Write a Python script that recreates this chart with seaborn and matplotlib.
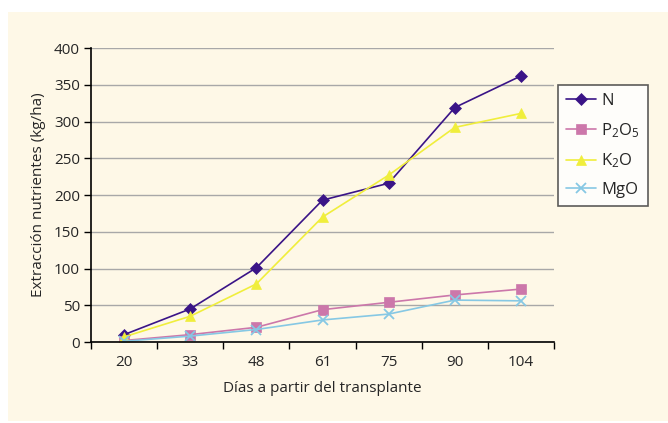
import matplotlib
matplotlib.use("Agg")
import matplotlib.pyplot as plt
import seaborn as sns
import pandas as pd
from matplotlib.patches import Rectangle
from matplotlib.ticker import FixedLocator, NullFormatter, FixedFormatter

# data
dias = ["20", "33", "48", "61", "75", "90", "104"]
n_vals = [10, 45, 101, 193, 216, 319, 362]
p2o5_vals = [2, 10, 20, 44, 54, 64, 72]
k2o_vals = [7, 35, 79, 170, 227, 292, 311]
mgo_vals = [1, 8, 17, 30, 38, 57, 56]

series = [
    ("N", n_vals, "#3a1487", "D", 6),
    ("P$_2$O$_5$", p2o5_vals, "#cc77aa", "s", 7),
    ("K$_2$O", k2o_vals, "#f0ee3c", "^", 7),
    ("MgO", mgo_vals, "#86c8e4", "x", 7),
]

sns.set_style("white")
plt.rcParams['font.family'] = ['Open Sans', 'DejaVu Sans']
plt.rcParams['mathtext.fontset'] = 'custom'
plt.rcParams['mathtext.rm'] = 'Open Sans'
plt.rcParams['mathtext.it'] = 'Open Sans'

cream = "#fef8e7"
fig = plt.figure(figsize=(6.68, 4.23), dpi=100)
fig.patch.set_facecolor("white")
bg = Rectangle((8 / 668, 0.005), 1, 1 - 12 / 423 - 0.005,
               transform=fig.transFigure, facecolor=cream,
               edgecolor="none", zorder=-10)
fig.add_artist(bg)

ax = fig.add_axes([91 / 668, 1 - 342 / 423, (554 - 91) / 668, (342 - 48) / 423])
ax.set_facecolor(cream)

pos = list(range(len(dias)))
for name, vals, color, marker, ms in series:
    df = pd.DataFrame({"x": pos, "y": vals})
    sns.lineplot(data=df, x="x", y="y", ax=ax, color=color, marker=marker,
                 markersize=ms, markeredgecolor=color, markeredgewidth=1.3 if marker == "x" else 0.5,
                 linewidth=1.2, label=name)

ax.set_xlim(-0.5, len(dias) - 0.5)
ax.set_ylim(0, 400)
ax.set_yticks(range(0, 401, 50))
ax.yaxis.grid(True, color="#a8a8a8", linewidth=1)
ax.set_axisbelow(True)

# category ticks at boundaries, labels centred
ax.xaxis.set_major_locator(FixedLocator([i - 0.5 for i in range(len(dias) + 1)]))
ax.xaxis.set_major_formatter(NullFormatter())
ax.xaxis.set_minor_locator(FixedLocator(pos))
ax.xaxis.set_minor_formatter(FixedFormatter(dias))
ax.tick_params(axis="x", which="major", direction="out", length=5, width=1, color="black", bottom=True)
ax.tick_params(axis="x", which="minor", length=0, pad=9, labelsize=11)
ax.tick_params(axis="y", direction="out", length=5, width=1, color="black", left=True, labelsize=11, pad=3)

for side in ["top", "right"]:
    ax.spines[side].set_visible(False)
for side in ["left", "bottom"]:
    ax.spines[side].set_color("black")
    ax.spines[side].set_linewidth(1.2)

ax.set_xlabel("Días a partir del transplante", fontsize=11, labelpad=8)
ax.set_ylabel("Extracción nutrientes (kg/ha)", fontsize=11, labelpad=6)

leg = ax.legend(loc="upper left", bbox_to_anchor=(558 / 668, 1 - 85 / 423),
                bbox_transform=fig.transFigure, borderaxespad=0, frameon=True,
                fancybox=False, fontsize=12, handlelength=1.8, borderpad=0.5,
                labelspacing=0.7, handletextpad=0.3)
leg.get_frame().set_edgecolor("#333333")
leg.get_frame().set_linewidth(1.2)
leg.get_frame().set_facecolor("white")

fig.savefig("out.png", dpi=100, facecolor=fig.get_facecolor())
